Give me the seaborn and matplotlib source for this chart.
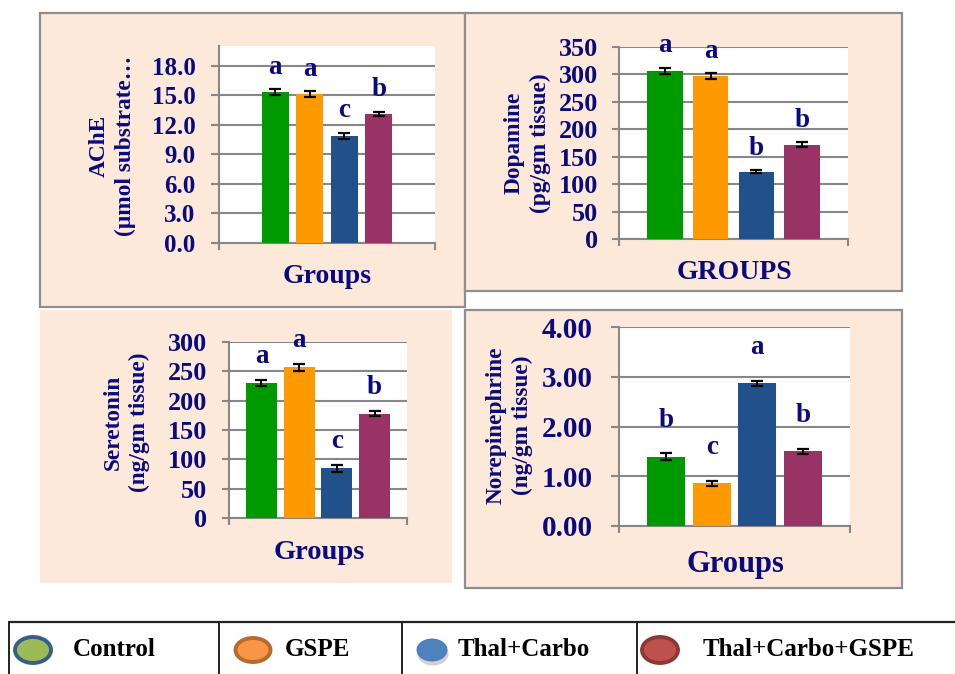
import numpy as np
import pandas as pd
import matplotlib
matplotlib.use("Agg")
import matplotlib.pyplot as plt
from matplotlib.patches import Rectangle, Ellipse
from matplotlib.ticker import FormatStrFormatter
import seaborn as sns

# ---- data -------------------------------------------------------------
groups = ["Control", "GSPE", "Thal+Carbo", "Thal+Carbo+GSPE"]
bar_colors = ["#009900", "#FF9900", "#22508A", "#993366"]

ache_vals = [15.3, 15.1, 10.9, 13.1]
ache_err = [0.30, 0.30, 0.30, 0.20]
ache_sig = ["a", "a", "c", "b"]

dopamine_vals = [306, 297, 123, 172]
dopamine_err = [6, 5, 2, 4]
dopamine_sig = ["a", "a", "b", "b"]

serotonin_vals = [230, 257, 85, 178]
serotonin_err = [5, 6, 6, 4]
serotonin_sig = ["a", "a", "c", "b"]

norepi_vals = [1.39, 0.86, 2.87, 1.50]
norepi_err = [0.07, 0.05, 0.05, 0.05]
norepi_sig = ["b", "c", "a", "b"]

legend_fill = ["#9BBB59", "#F79646", "#4F81BD", "#C0504D"]
legend_edge = ["#385D8A", "#B66A2C", None, "#8C3836"]

# ---- style ------------------------------------------------------------
sns.set_theme(style="white")
plt.rcParams["font.family"] = ["Liberation Serif", "DejaVu Serif"]
plt.rcParams["font.weight"] = "bold"

NAVY = "#0A0A80"
GRID = "#878787"
PANEL_BG = "#FDE9D9"
PANEL_EDGE = "#8E8E8E"

W, H = 955, 674
fig = plt.figure(figsize=(W / 100, H / 100), dpi=100)
fig.patch.set_facecolor("white")


def fx(x):
    return x / W


def fy(y):
    return 1 - y / H


def panel(x0, y0, x1, y1, border=True):
    fig.patches.append(Rectangle((fx(x0), fy(y1)), fx(x1 - x0), (y1 - y0) / H,
                                 transform=fig.transFigure, facecolor=PANEL_BG,
                                 edgecolor=PANEL_EDGE if border else "none",
                                 linewidth=1.6, zorder=-5))


def chart(box, vals, errs, sigs, ymax, ystep, fmt, xlim, bar_w, ylabel,
          ylabel_pos, xlabel, xlabel_pos, tick_size, label_size,
          tick_len, tick_pad, sig_offset):
    x0, y0, x1, y1 = box
    ax = fig.add_axes([fx(x0), fy(y1), fx(x1 - x0), (y1 - y0) / H])
    ax.set_facecolor("white")
    df = pd.DataFrame({"group": groups, "value": vals})
    sns.barplot(data=df, x="group", y="value", hue="group", palette=bar_colors,
                width=bar_w, legend=False, ax=ax, saturation=1,
                edgecolor="none", zorder=3)
    xs = np.arange(len(groups))
    ax.errorbar(xs, vals, yerr=errs, fmt="none", ecolor="black",
                elinewidth=1.4, capsize=4, capthick=1.6, zorder=4)
    for xi, v, e, s in zip(xs, vals, errs, sigs):
        ax.annotate(s, xy=(xi, v + e), xytext=(0, sig_offset),
                    textcoords="offset points", ha="center", va="bottom",
                    fontsize=19.5, fontweight="bold", color=NAVY, zorder=5)
    ax.set_xlim(*xlim)
    ax.set_ylim(0, ymax)
    ticks = np.arange(0, ymax + ystep * 0.01, ystep)
    ax.set_yticks(ticks[ticks <= ymax + 1e-9])
    ax.yaxis.set_major_formatter(FormatStrFormatter(fmt))
    ax.set_xticks(list(xlim))
    ax.set_xticklabels([])
    ax.grid(axis="y", color=GRID, linewidth=1.5, zorder=1)
    ax.set_axisbelow(True)
    for side in ("top", "right"):
        ax.spines[side].set_visible(False)
    for side in ("left", "bottom"):
        ax.spines[side].set_color(GRID)
        ax.spines[side].set_linewidth(1.5)
    ax.tick_params(axis="y", length=tick_len, width=1.5, color=GRID,
                   pad=tick_pad, labelsize=tick_size, labelcolor=NAVY,
                   left=True)
    ax.tick_params(axis="x", length=5, width=1.5, color=GRID, bottom=True,
                   direction="out")
    for lab in ax.get_yticklabels():
        lab.set_fontweight("bold")
    ax.set_xlabel(xlabel, fontsize=label_size, fontweight="bold", color=NAVY,
                  va="baseline")
    ax.xaxis.set_label_coords(fx(xlabel_pos[0]), fy(xlabel_pos[1]),
                              transform=fig.transFigure)
    ax.set_ylabel(ylabel, fontsize=16.8, fontweight="bold", color=NAVY,
                  va="center", ha="center", multialignment="center",
                  linespacing=1.3)
    ax.yaxis.set_label_coords(fx(ylabel_pos[0]), fy(ylabel_pos[1]),
                              transform=fig.transFigure)
    return ax


# panel backgrounds
panel(40, 13, 465, 307)
panel(465, 13, 902, 291)
panel(40, 310, 452, 583, border=False)
panel(465, 310, 902, 588)

chart((219, 46, 435, 243), ache_vals, ache_err, ache_sig, 20, 3, "%.1f",
      (-1.63, 4.63), 0.78, "AChE\n(\u00b5mol substrate\u2026", (112, 146),
      "Groups", (327, 283), 18, 20, 6, 11, 7)

chart((619, 47, 848, 239), dopamine_vals, dopamine_err, dopamine_sig,
      350, 50, "%d", (-1.0, 4.0), 0.78, "Dopamine\n(pg/gm tissue)",
      (527, 143), "GROUPS", (734, 279), 18.8, 20, 5, 10, 7)

chart((229, 342, 407, 518), serotonin_vals, serotonin_err, serotonin_sig,
      300, 50, "%d", (-0.86, 3.86), 0.82, "Seretonin\n(ng/gm tissue)",
      (126, 422), "Groups", (319, 559), 18.8, 20.5, 5, 11, 8)

chart((619, 327, 850, 526), norepi_vals, norepi_err, norepi_sig,
      4, 1, "%.2f", (-1.03, 4.03), 0.83, "Norepinephrine\n(ng/gm tissue)",
      (509, 425), "Groups", (735, 572), 21, 22, 6, 13, 15)

# ---- legend strip -----------------------------------------------------
lax = fig.add_axes([0, 0, 1, fy(621)])
lax.set_xlim(0, W)
lax.set_ylim(H, 621)
lax.axis("off")
cell_edges = [9, 219, 402, 637]
marker_x = [33, 253, 432, 660]
marker_size = [(39, 29), (38, 27), (31, 23), (39, 29)]
text_x = [73, 285, 458, 703]
row_y = 650
lax.plot([9, W], [622, 622], color="#222222", lw=1.6, clip_on=False)
for xe in cell_edges:
    lax.plot([xe, xe], [622, H], color="#222222", lw=1.4, clip_on=False)
for name, mx, (mw, mh), tx, fc, ec in zip(groups, marker_x, marker_size,
                                          text_x, legend_fill, legend_edge):
    if ec is None:
        lax.add_patch(Ellipse((mx + 1, row_y + 4), mw, mh, facecolor="#9A9A9A",
                              edgecolor="none", alpha=0.45))
        lax.add_patch(Ellipse((mx, row_y), mw, mh, facecolor=fc,
                              edgecolor="none"))
    else:
        lax.add_patch(Ellipse((mx, row_y), mw - 3, mh - 3, facecolor=fc,
                              edgecolor=ec, linewidth=2.8))
    lax.text(tx, row_y, name, ha="left", va="center", fontsize=18,
             fontweight="bold", color="black")

fig.savefig("out.png", dpi=100, facecolor="white")
